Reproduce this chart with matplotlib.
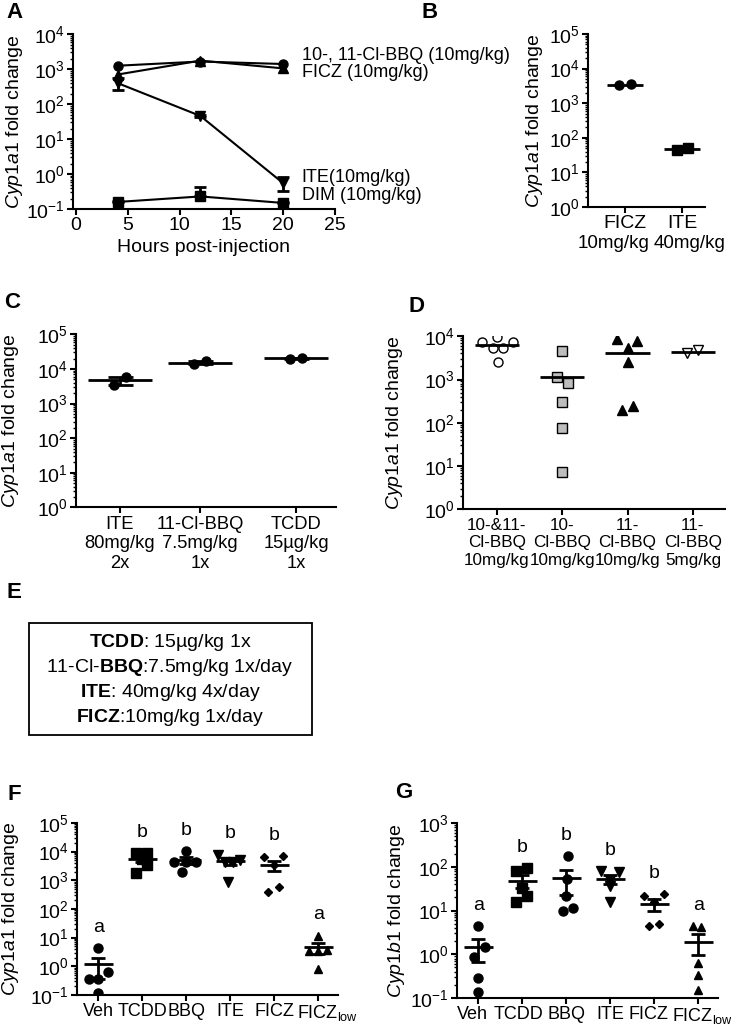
import numpy as np
import matplotlib
matplotlib.use('Agg')
import matplotlib.pyplot as plt
from matplotlib.ticker import LogLocator, NullFormatter
from matplotlib.patches import Rectangle
from matplotlib.transforms import ScaledTranslation

plt.rcParams['font.family'] = ['Liberation Sans', 'DejaVu Sans']
plt.rcParams['mathtext.fontset'] = 'custom'
plt.rcParams['mathtext.rm'] = 'Liberation Sans'
plt.rcParams['mathtext.it'] = 'Liberation Sans:italic'
plt.rcParams['mathtext.bf'] = 'Liberation Sans:bold'
plt.rcParams['font.size'] = 14

YLAB1 = r'$\it{Cyp1a1}$ fold change'
YLAB2 = r'$\it{Cyp1b1}$ fold change'

# ---- data ----
# A: time course (mean, error low/high)
a_hours = [4, 12, 20]
a_bbq = [1250, 1650, 1400]
a_ficz = [700, 1750, 1050]
a_ite = [400, 46, 0.55]
a_ite_lo = [150, 3, 0.23]
a_ite_hi = [140, 3, 0.25]
a_dim = [0.16, 0.23, 0.15]
a_dim_lo = [0.005, 0.0, 0.005]
a_dim_hi = [0.005, 0.2, 0.005]

# B
b_names = ['FICZ', 'ITE']
b_doses = ['10mg/kg', '40mg/kg']
b_ficz = [3300, 3500]
b_ite = [46, 50]

# C
c_labels = ['ITE\n80mg/kg\n2x', '11-Cl-BBQ\n7.5mg/kg\n1x', 'TCDD\n15µg/kg\n1x']
c_ite = [3400, 5900]
c_bbq = [14000, 16500]
c_tcdd = [19800, 20500]

# D
d_labels = ['10-&11-\nCl-BBQ\n10mg/kg', '10-\nCl-BBQ\n10mg/kg',
            '11-\nCl-BBQ\n10mg/kg', '11-\nCl-BBQ\n5mg/kg']
d_both = [7300, 9500, 7300, 5400, 5400, 2600]
d_10 = [4500, 1140, 830, 300, 76, 7.4]
d_11 = [8700, 7600, 5400, 2500, 250, 194]
d_11low = [4150, 4700]

# F / G
fg_labels = ['Veh', 'TCDD', 'BBQ', 'ITE', 'FICZ', r'FICZ$_{\rm low}$']
f_veh = [4.4, 0.62, 0.35, 0.35, 0.12]
f_tcdd = [8900, 8900, 5500, 3300, 1800]
f_bbq = [10200, 4200, 4500, 4200, 1900]
f_ite = [7800, 5200, 4500, 4300, 900]
f_ficz = [6300, 6800, 3500, 380, 590]
f_ficzlow = [11.7, 3.3, 3.8, 3.5, 0.81]
f_letters = ['a', 'b', 'b', 'b', 'b', 'a']

g_veh = [4.4, 1.47, 0.87, 0.28, 0.137]
g_tcdd = [81, 93, 32, 21, 16]
g_bbq = [178, 52, 21, 9.8, 11.2]
g_ite = [80, 75, 50, 36, 16]
g_ficz = [21, 24, 15.8, 4.4, 4.9]
g_ficzlow = [4.4, 4.1, 0.63, 0.33, 0.155]
g_letters = ['a', 'b', 'b', 'b', 'b', 'a']

# horizontal spread of points inside a column (category units)
d_jit = [[-0.23, 0, 0.25, -0.06, 0.09, 0.02], [0, -0.08, 0.08, 0, 0, 0],
         [-0.17, 0.15, 0, 0, 0.08, -0.08], [-0.09, 0.08]]
f_jit = [[0, 0.23, -0.2, 0, 0], [-0.14, 0.12, 0, 0.12, -0.14], [0, -0.27, 0, 0.23, -0.1],
         [-0.27, 0.23, -0.11, 0.07, -0.05], [-0.23, 0.2, 0, -0.14, 0.11], [0, -0.2, 0.2, 0, 0]]
g_jit = [[0, 0.16, -0.1, 0, 0], [-0.14, 0.11, 0, 0.11, -0.14], [0.05, 0.02, 0, -0.07, 0.16],
         [-0.2, 0.2, 0, 0, 0], [-0.23, 0.23, 0, -0.11, 0.11], [-0.11, 0.07, 0, 0, 0]]
# nudges of the tick labels (points) so FICZ / FICZlow don't collide
f_lab_shift = [0, 0, 0, 0, 0, 6.5]
g_lab_shift = [-4, -3, 0, 0, -4, 3]

LW = 1.5


def style_log(ax, ymin, ymax):
    ax.set_yscale('log')
    ax.set_ylim(ymin, ymax)
    ax.yaxis.set_major_locator(LogLocator(base=10, numticks=20))
    ax.yaxis.set_minor_locator(LogLocator(base=10, subs=np.arange(2, 10), numticks=20))
    ax.yaxis.set_minor_formatter(NullFormatter())
    for s in ['top', 'right']:
        ax.spines[s].set_visible(False)
    for s in ['left', 'bottom']:
        ax.spines[s].set_linewidth(LW)
    ax.tick_params(which='major', length=4, width=LW, labelsize=14, pad=2)
    ax.tick_params(which='minor', length=2, width=1)
    ax.tick_params(axis='x', which='minor', length=0)


def scatter_group(ax, pos, vals, jit, marker, ms, fc='black', half=0.32, err=True, cap=5):
    vals = np.asarray(vals, dtype=float)
    ax.plot(pos + np.asarray(jit), vals, linestyle='none', marker=marker, ms=ms,
            mfc=fc, mec='black', mew=1, zorder=3)
    m = vals.mean()
    ax.hlines(m, pos - half, pos + half, color='black', lw=2, zorder=4)
    if err:
        sem = vals.std(ddof=1) / np.sqrt(len(vals))
        ax.errorbar(pos, m, yerr=sem, fmt='none', ecolor='black', elinewidth=2,
                    capsize=cap, capthick=2, zorder=4)
    return vals.max()


def ylab(ax, text, x):
    # x = right edge of the rotated label, in axes units
    ax.set_ylabel(text, fontsize=14)
    ax.yaxis.set_label_coords(x, 0.5)


fig = plt.figure(figsize=(7.42, 10.25), dpi=100)

# ---- A ----
axA = fig.add_axes([0.0984, 0.796, 0.353, 0.1707])
style_log(axA, 0.1, 1e4)
axA.errorbar(a_hours, a_bbq, color='black', marker='o', ms=6.5, lw=LW)
axA.errorbar(a_hours, a_ficz, color='black', marker='^', ms=6.5, lw=LW)
axA.errorbar(a_hours, a_ite, yerr=[a_ite_lo, a_ite_hi], color='black', marker='v',
             ms=6.5, lw=LW, capsize=4, elinewidth=2, capthick=2)
axA.errorbar(a_hours, a_dim, yerr=[a_dim_lo, a_dim_hi], color='black', marker='s',
             ms=6.5, lw=LW, capsize=4, elinewidth=2, capthick=2)
axA.set_xlim(-0.3, 25)
axA.set_xticks([0, 5, 10, 15, 20, 25])
axA.set_xlabel('Hours post-injection', fontsize=14, labelpad=3)
ylab(axA, YLAB1, -0.185)
for txt, yv in [('10-, 11-Cl-BBQ (10mg/kg)', 2500), ('FICZ (10mg/kg)', 780),
                ('ITE(10mg/kg)', 0.8), ('DIM (10mg/kg)', 0.24)]:
    axA.text(21.8, yv, txt, fontsize=13, va='center', ha='left', clip_on=False)

# ---- B ----
axB = fig.add_axes([0.7925, 0.798, 0.1577, 0.1688])
style_log(axB, 1, 1e5)
for i, (vals, mk) in enumerate([(b_ficz, 'o'), (b_ite, 's')]):
    scatter_group(axB, i, vals, [-0.1, 0.1], mk, 6.5, half=0.32, err=False)
axB.set_xlim(-0.65, 1.4)
axB.set_xticks([0, 1])
axB.set_xticklabels(b_names, fontsize=14)
for i, dose in enumerate(b_doses):
    axB.annotate(dose, (i, 0), xycoords=('data', 'axes fraction'),
                 xytext=(-8 + 13 * i, -26), textcoords='offset points', ha='center',
                 va='center', fontsize=13.5)
ylab(axB, YLAB1, -0.37)

# ---- C ----
c_pos = [0, 1, 2.2]
axC = fig.add_axes([0.1024, 0.505, 0.3504, 0.1688])
style_log(axC, 1, 1e5)
for p, vals in zip(c_pos, [c_ite, c_bbq, c_tcdd]):
    scatter_group(axC, p, vals, [-0.08, 0.08], 'o', 6.5, half=0.4, cap=9)
axC.set_xlim(-0.55, 2.7)
axC.set_xticks(c_pos)
axC.set_xticklabels(c_labels, fontsize=13.2)
ylab(axC, YLAB1, -0.21)

# ---- D ----
axD = fig.add_axes([0.624, 0.503, 0.353, 0.169])
style_log(axD, 1, 1e4)
d_sets = [(d_both, 'o', 'white'), (d_10, 's', '#bdbdbd'), (d_11, '^', 'black'),
          (d_11low, 'v', 'white')]
for i, (vals, mk, fc) in enumerate(d_sets):
    scatter_group(axD, i, vals, d_jit[i], mk, 6.5, fc=fc, half=0.34, err=False)
axD.set_xlim(-0.52, 3.49)
axD.set_xticks(range(4))
axD.set_xticklabels(d_labels, fontsize=12.3)
ylab(axD, YLAB1, -0.22)

# ---- E ----
fig.patches.append(Rectangle((0.039, 0.2829), 0.3814, 0.1093, transform=fig.transFigure,
                             fill=False, edgecolor='black', lw=1.3))
e_lines = [r'$\bf{TCDD}$: 15µg/kg 1x', r'11-Cl-$\bf{BBQ}$:7.5mg/kg 1x/day',
           r'$\bf{ITE}$: 40mg/kg 4x/day', r'$\bf{FICZ}$:10mg/kg 1x/day']
for k, line in enumerate(e_lines):
    fig.text(0.229, 0.3727 - k * 0.0241, line, ha='center', va='center', fontsize=14)

# ---- F / G ----
fg_markers = [('o', 6.5), ('s', 6.5), ('o', 6.5), ('v', 6.5), ('D', 4.5), ('^', 6)]


def panel_fg(rect, sets, jits, letters, ymax, ylabel, labx, shifts):
    ax = fig.add_axes(rect)
    style_log(ax, 0.1, ymax)
    for i, vals in enumerate(sets):
        mk, ms = fg_markers[i]
        top = scatter_group(ax, i, vals, jits[i], mk, ms, half=0.33, cap=5)
        ax.annotate(letters[i], (i, top), xytext=(0, 15), textcoords='offset points',
                    ha='center', va='center', fontsize=14)
    ax.set_xlim(-0.48, 5.45)
    ax.set_xticks(range(6))
    ax.set_xticklabels(fg_labels, fontsize=13)
    for lab, dx in zip(ax.get_xticklabels(), shifts):
        lab.set_transform(lab.get_transform() + ScaledTranslation(dx / 72, 0, fig.dpi_scale_trans))
    ylab(ax, ylabel, labx)
    return ax


panel_fg([0.1038, 0.0293, 0.3518, 0.1678],
         [f_veh, f_tcdd, f_bbq, f_ite, f_ficz, f_ficzlow], f_jit, f_letters, 1e5,
         YLAB1, -0.215, f_lab_shift)
panel_fg([0.616, 0.0263, 0.3518, 0.1707],
         [g_veh, g_tcdd, g_bbq, g_ite, g_ficz, g_ficzlow], g_jit, g_letters, 1e3,
         YLAB2, -0.19, g_lab_shift)

# ---- panel letters ----
for lab, x, y in [('A', 15, 12), ('B', 430, 12), ('C', 12, 302), ('D', 417, 307),
                  ('E', 14, 593), ('F', 14, 795), ('G', 404, 793)]:
    fig.text(x / 742, 1 - y / 1025, lab, fontsize=16, fontweight='bold',
             ha='center', va='center')

fig.savefig('out.png', dpi=100)
